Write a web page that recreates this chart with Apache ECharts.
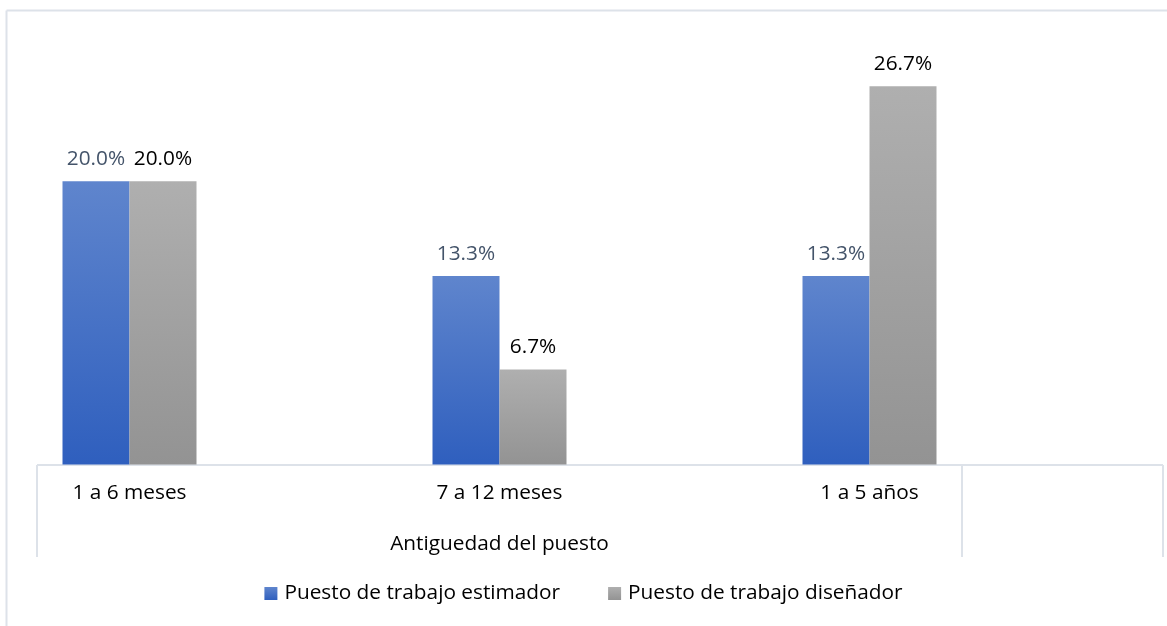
<!DOCTYPE html>
<html>
<head>
<meta charset="utf-8">
<script src="https://cdn.jsdelivr.net/npm/echarts@6/dist/echarts.min.js"></script>
<style>
  html, body { margin: 0; padding: 0; background: #fff; }
  #chart { width: 1167px; height: 626px; }
</style>
</head>
<body>
<div id="chart"></div>
<script>
// Antigüedad en el puesto por tipo de puesto de trabajo (%)
const categories = ['1 a 6 meses', '7 a 12 meses', '1 a 5 años'];
const estimador = [20.0, 13.3, 13.3];
const disenador = [20.0, 6.7, 26.7];
const seriesNames = ['Puesto de trabajo estimador', 'Puesto de trabajo diseñador'];
const axisTitle = 'Antiguedad del puesto';

const FONT = '"Open Sans", Lato, sans-serif';
const FS = 20.8;
const frameColor = '#DDE2E9';

const blueFill = new echarts.graphic.LinearGradient(0, 0, 0, 1, [
  { offset: 0, color: '#5F85CD' },
  { offset: 1, color: '#2F5FBE' }
]);
const grayFill = new echarts.graphic.LinearGradient(0, 0, 0, 1, [
  { offset: 0, color: '#AFAFAF' },
  { offset: 1, color: '#939393' }
]);

const chart = echarts.init(document.getElementById('chart'));

function pct(p) { return p.value.toFixed(1) + '%'; }

chart.setOption({
  backgroundColor: '#ffffff',
  animation: false,
  // categories sit on the ticks; the first tick is at the grid's left edge
  grid: { left: 129.5, right: 297.5, top: 39.5, bottom: 161.5, containLabel: false },
  xAxis: {
    type: 'category',
    data: categories,
    boundaryGap: false,
    axisLine: { show: false },
    axisTick: { show: false },
    axisLabel: { color: '#000', fontSize: FS, fontFamily: FONT, margin: 18 },
    name: axisTitle,
    nameLocation: 'middle',
    nameGap: 69,
    nameTextStyle: { color: '#000', fontSize: FS, fontFamily: FONT }
  },
  yAxis: {
    type: 'value',
    min: 0,
    max: 30,
    show: false,
    splitLine: { show: false }
  },
  legend: {
    bottom: 17,
    left: 'center',
    itemWidth: 13,
    itemHeight: 13,
    itemGap: 48,
    icon: 'rect',
    textStyle: { color: '#000', fontSize: FS, fontFamily: FONT, padding: [0, 0, 0, 2] },
    data: seriesNames
  },
  series: [
    {
      name: seriesNames[0],
      type: 'bar',
      data: estimador,
      barWidth: 67,
      barGap: '0%',
      itemStyle: { color: blueFill },
      label: {
        show: true, position: 'top', distance: 12,
        formatter: pct, color: '#44546A', fontSize: FS, fontFamily: FONT
      }
    },
    {
      name: seriesNames[1],
      type: 'bar',
      data: disenador,
      barWidth: 67,
      barGap: '0%',
      itemStyle: { color: grayFill },
      label: {
        show: true, position: 'top', distance: 12,
        formatter: pct, color: '#000', fontSize: FS, fontFamily: FONT
      }
    }
  ],
  graphic: [
    // outer chart frame
    { type: 'line', shape: { x1: 6.5, y1: 10.5, x2: 1167, y2: 10.5 }, style: { stroke: frameColor, lineWidth: 2 }, silent: true },
    { type: 'line', shape: { x1: 6.5, y1: 10.5, x2: 6.5, y2: 626 }, style: { stroke: frameColor, lineWidth: 2 }, silent: true },
    // category axis table
    { type: 'line', shape: { x1: 37, y1: 465, x2: 1163, y2: 465 }, style: { stroke: frameColor, lineWidth: 2 }, silent: true },
    { type: 'line', shape: { x1: 37, y1: 465, x2: 37, y2: 557 }, style: { stroke: frameColor, lineWidth: 2 }, silent: true },
    { type: 'line', shape: { x1: 962, y1: 465, x2: 962, y2: 557 }, style: { stroke: frameColor, lineWidth: 2 }, silent: true },
    { type: 'line', shape: { x1: 1163, y1: 465, x2: 1163, y2: 557 }, style: { stroke: frameColor, lineWidth: 2 }, silent: true }
  ]
});
</script>
</body>
</html>
